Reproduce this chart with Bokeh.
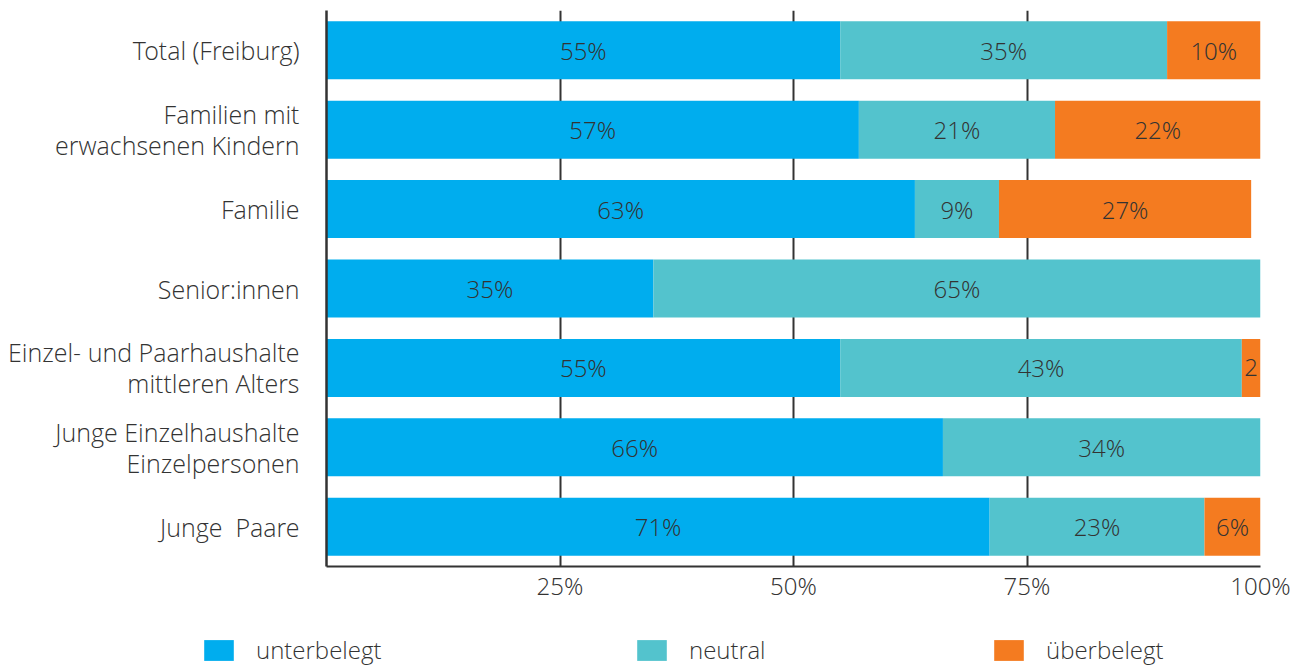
from bokeh.plotting import figure
from bokeh.models import ColumnDataSource, FactorRange, Range1d, FixedTicker, Legend, LegendItem, CustomJSTickFormatter
from bokeh.core.properties import value
from bokeh.embed import file_html
from bokeh.resources import INLINE

categories = ["Total (Freiburg)", "Familien mit\nerwachsenen Kindern", "Familie", "Senior:innen",
              "Einzel- und Paarhaushalte\nmittleren Alters", "Junge Einzelhaushalte\nEinzelpersonen",
              "Junge \u00a0Paare"]
unterbelegt = [55, 57, 63, 35, 55, 66, 71]
neutral = [35, 21, 9, 65, 43, 34, 23]
ueberbelegt = [10, 22, 27, 0, 2, 0, 6]
series = ["unterbelegt", "neutral", "überbelegt"]
colors = ["#00ADEE", "#53C3CD", "#F47B20"]
x_ticks = [25, 50, 75, 100]

FONT = "Open Sans Light"
TXT = "#333333"

src = ColumnDataSource(dict(cat=categories, u=unterbelegt, n=neutral, o=ueberbelegt))

p = figure(width=1293, height=610, output_backend="svg", toolbar_location=None,
           y_range=FactorRange(*reversed(categories)), x_range=Range1d(0, 100))
p.min_border_left = 326
p.min_border_right = 33
p.min_border_top = 10
p.min_border_bottom = 44
p.outline_line_color = None

rs = p.hbar_stack(["u", "n", "o"], y="cat", height=0.73, color=colors, source=src, line_color=None)

# bar value labels
lx, ly, lt = [], [], []
for i, c in enumerate(categories):
    left = 0
    for v in (unterbelegt[i], neutral[i], ueberbelegt[i]):
        if v > 0:
            lx.append(left + v / 2)
            ly.append(c)
            lt.append(f"{v}%" if v >= 3 else f"{v}")
        left += v
p.text(x=lx, y=ly, text=lt, text_align="center", text_baseline="middle",
       text_font=value(FONT), text_font_size="24px", text_color=TXT)

# axes
p.xaxis.ticker = FixedTicker(ticks=x_ticks)
p.xaxis.formatter = CustomJSTickFormatter(code="return tick + '%'")
p.xaxis.axis_line_color = TXT
p.xaxis.axis_line_width = 2
p.xaxis.major_tick_line_color = None
p.xaxis.minor_tick_line_color = None
p.xaxis.major_tick_out = 0
p.xaxis.major_tick_in = 0
p.xaxis.major_label_text_font = FONT
p.xaxis.major_label_text_font_size = "24px"
p.xaxis.major_label_text_color = TXT
p.xaxis.major_label_standoff = 2

p.yaxis.axis_line_color = TXT
p.yaxis.axis_line_width = 2.5
p.yaxis.major_tick_line_color = None
p.yaxis.minor_tick_line_color = None
p.yaxis.major_tick_out = 0
p.yaxis.major_tick_in = 0
p.yaxis.major_label_text_font = FONT
p.yaxis.major_label_text_font_size = "25px"
p.yaxis.major_label_text_line_height = 0.91
p.yaxis.major_label_text_color = TXT
p.yaxis.major_label_standoff = 27

p.xgrid.ticker = FixedTicker(ticks=x_ticks)
p.xgrid.grid_line_color = TXT
p.xgrid.grid_line_width = 2
p.ygrid.grid_line_color = None

# legend row as a separate root below the chart
lg_fig = figure(width=1293, height=56, output_backend="svg", toolbar_location=None,
                x_axis_type=None, y_axis_type=None, x_range=Range1d(0, 1), y_range=Range1d(0, 1))
lg_fig.min_border = 0
lg_fig.outline_line_color = None
lg_src = ColumnDataSource(dict(y=[-5], right=[1]))  # kept outside the visible range
locs = [(200, 0), (633, 0), (990, 0)]
for name, col, loc in zip(series, colors, locs):
    r = lg_fig.hbar(y="y", right="right", height=1, color=col, line_color=None, source=lg_src)
    lg = Legend(items=[LegendItem(label=name, renderers=[r])], location=loc,
                orientation="horizontal", glyph_width=37, glyph_height=26,
                label_height=26, label_standoff=19, padding=0, margin=0, spacing=0,
                border_line_color=None, background_fill_alpha=0,
                label_text_font=FONT, label_text_font_size="24px", label_text_color=TXT)
    lg_fig.add_layout(lg, "center")

open("out.html", "w").write(file_html([p, lg_fig], INLINE))
